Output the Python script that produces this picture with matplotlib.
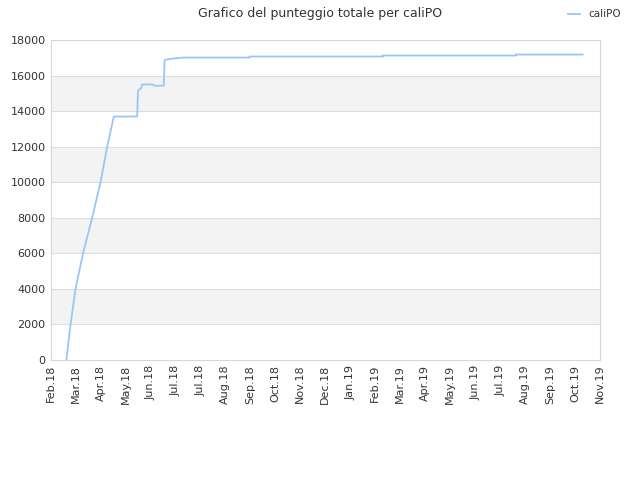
import matplotlib
matplotlib.use("Agg")
import matplotlib.pyplot as plt
import numpy as np
import pandas as pd

# punteggio totale di caliPO
dates = ["2018-02-20", "2018-02-25", "2018-03-03", "2018-03-12", "2018-03-23",
         "2018-04-02", "2018-04-10", "2018-04-18", "2018-05-16", "2018-05-17",
         "2018-05-21", "2018-05-22", "2018-06-04", "2018-06-05", "2018-06-17",
         "2018-06-18", "2018-06-24", "2018-07-09", "2018-09-28", "2018-09-28",
         "2019-03-07", "2019-03-07", "2019-08-14", "2019-08-14", "2019-11-02"]
scores = [0, 2000, 4000, 6000, 8000,
          10000, 12000, 13690, 13700, 15150,
          15300, 15500, 15500, 15430, 15430,
          16870, 16930, 17010, 17010, 17070,
          17070, 17125, 17125, 17180, 17180]

start = pd.Timestamp("2018-02-01")
tick_dates = [start + pd.Timedelta(days=30 * i) for i in range(23)]
tick_labels = [d.strftime("%b") + "." + d.strftime("%y") for d in tick_dates]

x = [(pd.Timestamp(d) - start).days for d in dates]
xt = [(d - start).days for d in tick_dates]

fig = plt.figure(figsize=(6.4, 4.8), dpi=100)
ax = fig.add_axes([0.079, 0.25, 0.8585, 0.6667])

# bande grigie alternate
for lo in range(2000, 18000, 4000):
    ax.axhspan(lo, lo + 2000, color="#f3f3f3", zorder=0, lw=0)
for yv in range(2000, 18000, 2000):
    ax.axhline(yv, color="#dddddd", lw=0.8, zorder=1)

ax.plot(x, scores, color="#99c7f2", lw=1.3, label="caliPO", zorder=3)

ax.set_xlim(0, 660)
ax.set_ylim(0, 18000)
ax.set_xticks(xt)
ax.set_xticklabels(tick_labels, rotation=90)
ax.set_yticks(np.arange(0, 18001, 2000))
ax.tick_params(colors="#333333", labelsize=8, length=0)
for s in ax.spines.values():
    s.set_color("#d6d6d6")

fig.suptitle("Grafico del punteggio totale per caliPO", x=0.5, y=0.985,
             fontsize=9, color="#333333")
fig.legend(loc="upper right", bbox_to_anchor=(0.985, 1.0), frameon=False,
           fontsize=7.5, handlelength=1.2, labelcolor="#333333")

fig.savefig("out.png", dpi=100)
